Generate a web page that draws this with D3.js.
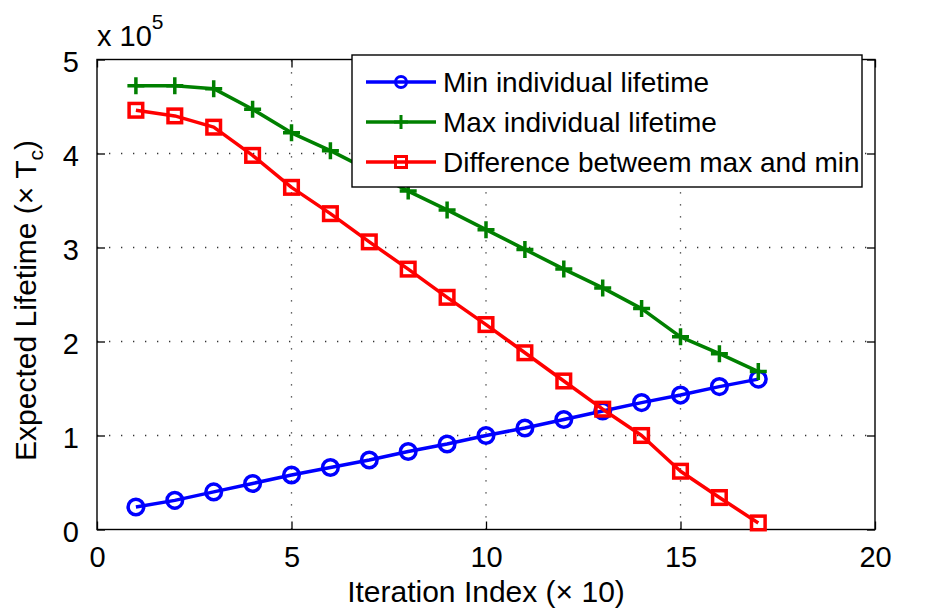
<!DOCTYPE html>
<html>
<head>
<meta charset="utf-8">
<script src="https://cdn.jsdelivr.net/npm/d3@7"></script>
<style>
  body { margin: 0; background: #fff; }
  svg text { font-family: "Liberation Sans", Arial, sans-serif; fill: #000; }
</style>
</head>
<body>
<div id="chart"></div>
<script>
'use strict';

// iteration index (x 10)
const iterations = [1, 2, 3, 4, 5, 6, 7, 8, 9, 10, 11, 12, 13, 14, 15, 16, 17];

// expected lifetime, in units of 1e5 Tc
const minLifetime  = [0.24, 0.31, 0.40, 0.49, 0.58, 0.66, 0.74, 0.83, 0.91, 1.00, 1.08, 1.17, 1.26, 1.35, 1.43, 1.52, 1.60];
const maxLifetime  = [4.72, 4.72, 4.69, 4.47, 4.22, 4.03, 3.82, 3.60, 3.40, 3.19, 2.98, 2.77, 2.57, 2.35, 2.05, 1.87, 1.68];
const diffLifetime = [4.46, 4.40, 4.28, 3.98, 3.64, 3.36, 3.06, 2.77, 2.47, 2.18, 1.88, 1.58, 1.28, 1.00, 0.62, 0.34, 0.07];

const xTicks = [0, 5, 10, 15, 20];
const yTicks = [0, 1, 2, 3, 4, 5];

const seriesNames = ['Min individual lifetime', 'Max individual lifetime', 'Difference betweem max and min'];

const width  = 942;
const height = 613;
const margin = {top: 59.5, right: 67, bottom: 83.5, left: 97};

const series = [
    {name: seriesNames[0], values: minLifetime,  color: '#0000ff', marker: 'circle'},
    {name: seriesNames[1], values: maxLifetime,  color: '#008000', marker: 'plus'},
    {name: seriesNames[2], values: diffLifetime, color: '#ff0000', marker: 'square'}
];

const svg = d3.select('#chart').append('svg')
    .attr('width', width)
    .attr('height', height);

const x = d3.scaleLinear().domain([0, 20]).range([margin.left, width - margin.right]);
const y = d3.scaleLinear().domain([0, 5]).range([height - margin.bottom, margin.top]);

const x0 = x.range()[0], x1 = x.range()[1];
const y0 = y.range()[0], y1 = y.range()[1];

// grid (dotted)
const grid = svg.append('g');
grid.selectAll('line.vg')
    .data(xTicks.slice(1, -1))
    .enter().append('line')
    .attr('x1', d => x(d)).attr('x2', d => x(d))
    .attr('y1', y0).attr('y2', y1)
    .attr('stroke', '#333').attr('stroke-width', 1.3)
    .attr('stroke-dasharray', '1.3,10.7');
grid.selectAll('line.hg')
    .data(yTicks.slice(1, -1))
    .enter().append('line')
    .attr('y1', d => y(d)).attr('y2', d => y(d))
    .attr('x1', x0).attr('x2', x1)
    .attr('stroke', '#333').attr('stroke-width', 1.3)
    .attr('stroke-dasharray', '1.3,10.7');

// axes, ticks pointing inwards like MATLAB
const tickLen = 8;
const tickFont = 29;
const labelFont = 30;
const legendFont = 28;

const xAxis = svg.append('g')
    .attr('transform', 'translate(0,' + y0 + ')')
    .call(d3.axisBottom(x).tickValues(xTicks).tickSize(-tickLen).tickPadding(tickLen + 9)
        .tickFormat(d3.format('d')));
const xAxisTop = svg.append('g')
    .attr('transform', 'translate(0,' + y1 + ')')
    .call(d3.axisTop(x).tickValues(xTicks).tickSize(-tickLen).tickFormat(''));
const yAxis = svg.append('g')
    .attr('transform', 'translate(' + x0 + ',0)')
    .call(d3.axisLeft(y).tickValues(yTicks).tickSize(-tickLen).tickPadding(tickLen + 10)
        .tickFormat(d3.format('d')));
const yAxisRight = svg.append('g')
    .attr('transform', 'translate(' + x1 + ',0)')
    .call(d3.axisRight(y).tickValues(yTicks).tickSize(-tickLen).tickFormat(''));

for (let ax of [xAxis, xAxisTop, yAxis, yAxisRight]) {
    ax.select('.domain').remove();
    ax.selectAll('.tick line').attr('stroke', '#000').attr('stroke-width', 1.3);
    ax.selectAll('.tick text')
        .attr('font-size', tickFont)
        .attr('font-family', '"Liberation Sans", Arial, sans-serif')
        .attr('fill', '#000');
}
yAxis.selectAll('.tick text').attr('dy', '0.42em');

svg.append('rect')
    .attr('x', x0).attr('y', y1)
    .attr('width', x1 - x0).attr('height', y0 - y1)
    .attr('fill', 'none').attr('stroke', '#000').attr('stroke-width', 1.4);

// exponent label
const expo = svg.append('text')
    .attr('x', 97).attr('y', 46)
    .attr('font-size', tickFont);
expo.append('tspan').text('x 10');
expo.append('tspan').attr('font-size', 21).attr('dy', -17).text('5');

// axis labels
svg.append('text')
    .attr('x', (x0 + x1) / 2).attr('y', 602)
    .attr('text-anchor', 'middle')
    .attr('font-size', labelFont)
    .text('Iteration Index (\u00d7 10)');

const yLabel = svg.append('text')
    .attr('transform', 'translate(36,' + ((y0 + y1) / 2 + 6) + ') rotate(-90)')
    .attr('text-anchor', 'middle')
    .attr('font-size', labelFont);
yLabel.append('tspan').text('Expected Lifetime (\u00d7 T');
yLabel.append('tspan').attr('font-size', 21).attr('dy', 7).text('c');
yLabel.append('tspan').attr('dy', -7).text(')');

// markers
const drawMarker = function(g, type, color, size, lw) {
    if (type === 'circle') {
        g.append('circle').attr('r', size)
            .attr('fill', 'none').attr('stroke', color).attr('stroke-width', lw);
    } else if (type === 'square') {
        g.append('rect').attr('x', -size).attr('y', -size).attr('width', 2 * size).attr('height', 2 * size)
            .attr('fill', 'none').attr('stroke', color).attr('stroke-width', lw);
    } else {
        g.append('path').attr('d', 'M' + (-size) + ',0H' + size + 'M0,' + (-size) + 'V' + size)
            .attr('stroke', color).attr('stroke-width', lw);
    }
};

const line = d3.line()
    .x((d, i) => x(iterations[i]))
    .y(d => y(d));

for (let s of series) {
    svg.append('path')
        .datum(s.values)
        .attr('d', line)
        .attr('fill', 'none')
        .attr('stroke', s.color)
        .attr('stroke-width', 3.5)
        .attr('stroke-linejoin', 'round');
    let size = s.marker === 'circle' ? 7.8 : (s.marker === 'square' ? 6.8 : 8.5);
    svg.append('g').selectAll('g')
        .data(s.values)
        .enter().append('g')
        .attr('transform', (d, i) => 'translate(' + x(iterations[i]) + ',' + y(d) + ')')
        .each(function() { drawMarker(d3.select(this), s.marker, s.color, size, 3.5); });
}

// legend
const legend = svg.append('g').attr('transform', 'translate(352,55)');
legend.append('rect')
    .attr('width', 510).attr('height', 132)
    .attr('fill', '#fff').attr('stroke', '#000').attr('stroke-width', 1.4);
series.forEach(function(s, i) {
    let row = legend.append('g').attr('transform', 'translate(0,' + (27 + i * 40) + ')');
    row.append('line')
        .attr('x1', 14).attr('x2', 84)
        .attr('stroke', s.color).attr('stroke-width', 3.5);
    let m = row.append('g').attr('transform', 'translate(49,0)');
    let size = s.marker === 'circle' ? 5.5 : (s.marker === 'square' ? 5.5 : 7);
    drawMarker(m, s.marker, s.color, size, 3);
    row.append('text')
        .attr('x', 91).attr('y', 0).attr('dy', '0.36em')
        .attr('font-size', legendFont)
        .text(s.name);
});
</script>
</body>
</html>
